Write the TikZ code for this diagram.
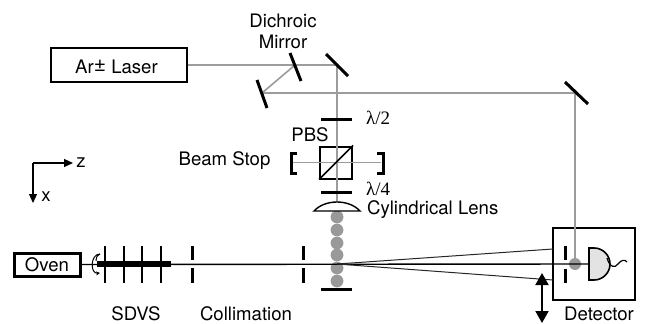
\documentclass[tikz,border=0pt]{standalone}
\usepackage{fontspec}
\setmainfont{TeX Gyre Heros}
\newfontfamily\lamfont{Liberation Serif}
\usetikzlibrary{arrows.meta,positioning}
\definecolor{beamgray}{HTML}{9C9C9C}
\definecolor{dotgray}{HTML}{999999}
\definecolor{diodegray}{HTML}{E3E3E3}
\tikzset{
  label text/.style={font=\fontsize{18.6}{21}\selectfont,inner sep=0pt},
  wave text/.style={font=\lamfont\fontsize{19}{21}\selectfont,inner sep=0pt},
  beam/.style={beamgray,line width=2.2pt},
  optic/.style={black,line width=3pt},
  plate/.style={black,line width=1.3pt},
  atom/.style={black,line width=1.4pt},
  fan/.style={black!85,line width=1pt},
  axis arrow/.style={line width=1.3pt,-{Triangle[length=9pt,width=8pt]}},
}
\begin{document}
\begin{tikzpicture}[x=1pt,y=-1pt]
    \useasboundingbox (0,0) rectangle (646,324);
    % mirrors and beam corners
    \coordinate (dichroic) at (295,65);
    \coordinate (fold) at (262,93);
    \coordinate (topmirror) at (337,65);
    \coordinate (rightmirror) at (575,93);
    \coordinate (stopL) at (293,162.5);
    \coordinate (stopR) at (381,162.5);
    \coordinate (lensc) at (337,207);
    \coordinate (focus) at (337,264);
    \coordinate (axes) at (33,163);
    \node[draw,line width=2pt,minimum width=136pt,minimum height=34pt,inner sep=0pt] (laser) at (119,65) {};
    \node[label text] (lasertxt) at (116.5,67) {Ar\raisebox{2.5pt}{\fontsize{21}{21}\selectfont ±} Laser};
    \node[draw,line width=3pt,minimum width=66pt,minimum height=23pt,inner sep=0pt] (oven) at (47.5,264.5) {};
    \node[label text] (oventxt) at (47,265) {Oven};
    \node[draw,line width=1.2pt,minimum width=82pt,minimum height=72pt,inner sep=0pt] (detbox) at (594,264) {};
    \node[draw,line width=2pt,minimum width=32pt,minimum height=32pt,inner sep=0pt] (pbs) at (336,162.5) {};
    % laser beams
    \draw[beam] (laser.east) -- (topmirror) -- (lensc);
    \draw[beam,line width=1.6pt] (dichroic) -- (fold);
    \draw[beam] (fold) -- (rightmirror) -- (575,264);
    \draw[beam,line width=1.6pt] (stopL) -- (stopR);
    \foreach \yy in {217,230,243,255,268,281}{
      \fill[dotgray] (337,\yy) circle (6.4pt);
    }
    \fill[dotgray] (575,264) circle (6pt);
    % atom beam
    \draw[atom] (oven.east) -- (589,264);
    \draw[fan] (focus) -- (553,249);
    \draw[fan] (focus) -- (553,280);
    \draw[black,line width=5.5pt] (97,264) -- (171,264);
    % sdvs plates
    \foreach \xx in {105,124,142,161}{
      \draw[plate] (\xx,246) -- (\xx,283);
    }
    \draw[line width=1pt,-{Stealth[length=4pt,width=4pt]}] (100,254) .. controls (90,254) and (90,274) .. (100,273);
    \draw[line width=1pt] (100,254) .. controls (96,256) and (96,259) .. (96,261);
    % collimation and detector slits
    \foreach \xx in {192,303}{
      \draw[optic] (\xx,246) -- (\xx,260);
      \draw[optic] (\xx,268) -- (\xx,283);
    }
    \draw[optic] (565,246) -- (565,260);
    \draw[optic] (565,269) -- (565,283);
    \draw[optic] (321,289) -- (352,289);
    % mirrors
    \draw[optic] (290,53) -- (301,81);
    \draw[optic] (257,80) -- (267,108);
    \draw[optic] (326,54) -- (348,76);
    \draw[optic] (565,82) -- (588,104);
    % wave plates
    \draw[optic] (321,119) -- (352,119);
    \draw[optic] (321,192) -- (352,192);
    \draw[line width=1.6pt] (pbs.south west) -- (pbs.north east);
    % beam stops
    \draw[optic] (297,153) -- (291,153) -- (291,173) -- (297,173);
    \draw[optic] (377,153) -- (383,153) -- (383,173) -- (377,173);
    % lens
    \draw[line width=1.4pt,fill=white] (314,211) .. controls (325,199) and (349,199) .. (360,211) -- cycle;
    % photodiode
    \draw[line width=1.6pt,fill=diodegray] (589,248) -- (594,248) arc (90:-90:16pt) -- (589,280) -- cycle;
    \draw[line width=1.2pt] (607,258) .. controls (610,268) and (615,268) .. (618,264) .. controls (621,260) and (625,259) .. (627,262);
    % translation arrow and axes
    \draw[line width=2pt,{Triangle[length=12pt,width=13pt]}-{Triangle[length=12pt,width=13pt]}] (542,273) -- (542,323);
    \draw[axis arrow] (axes) -- (73,163);
    \draw[axis arrow] (axes) -- (33,203);
    % labels
    \node[label text] (ztxt) at (81,163) {z};
    \node[label text] (xtxt) at (46,197) {x};
    \node[label text,align=center] (dichtxt) at (283,31) {Dichroic\\Mirror};
    \node[label text] (pbstxt) at (310,135) {PBS};
    \node[label text] (stoptxt) at (224.5,161) {Beam Stop};
    \node[wave text,anchor=west] (halftxt) at (366,118) {λ/2};
    \node[wave text,anchor=west] (quartertxt) at (366,189) {λ/4};
    \node[label text,anchor=west] (lenstxt) at (367,209.5) {Cylindrical Lens};
    \node[label text] (sdvstxt) at (136,314) {SDVS};
    \node[label text] (colltxt) at (246,314) {Collimation};
    \node[label text] (dettxt) at (599,314) {Detector};
\end{tikzpicture}
\end{document}
